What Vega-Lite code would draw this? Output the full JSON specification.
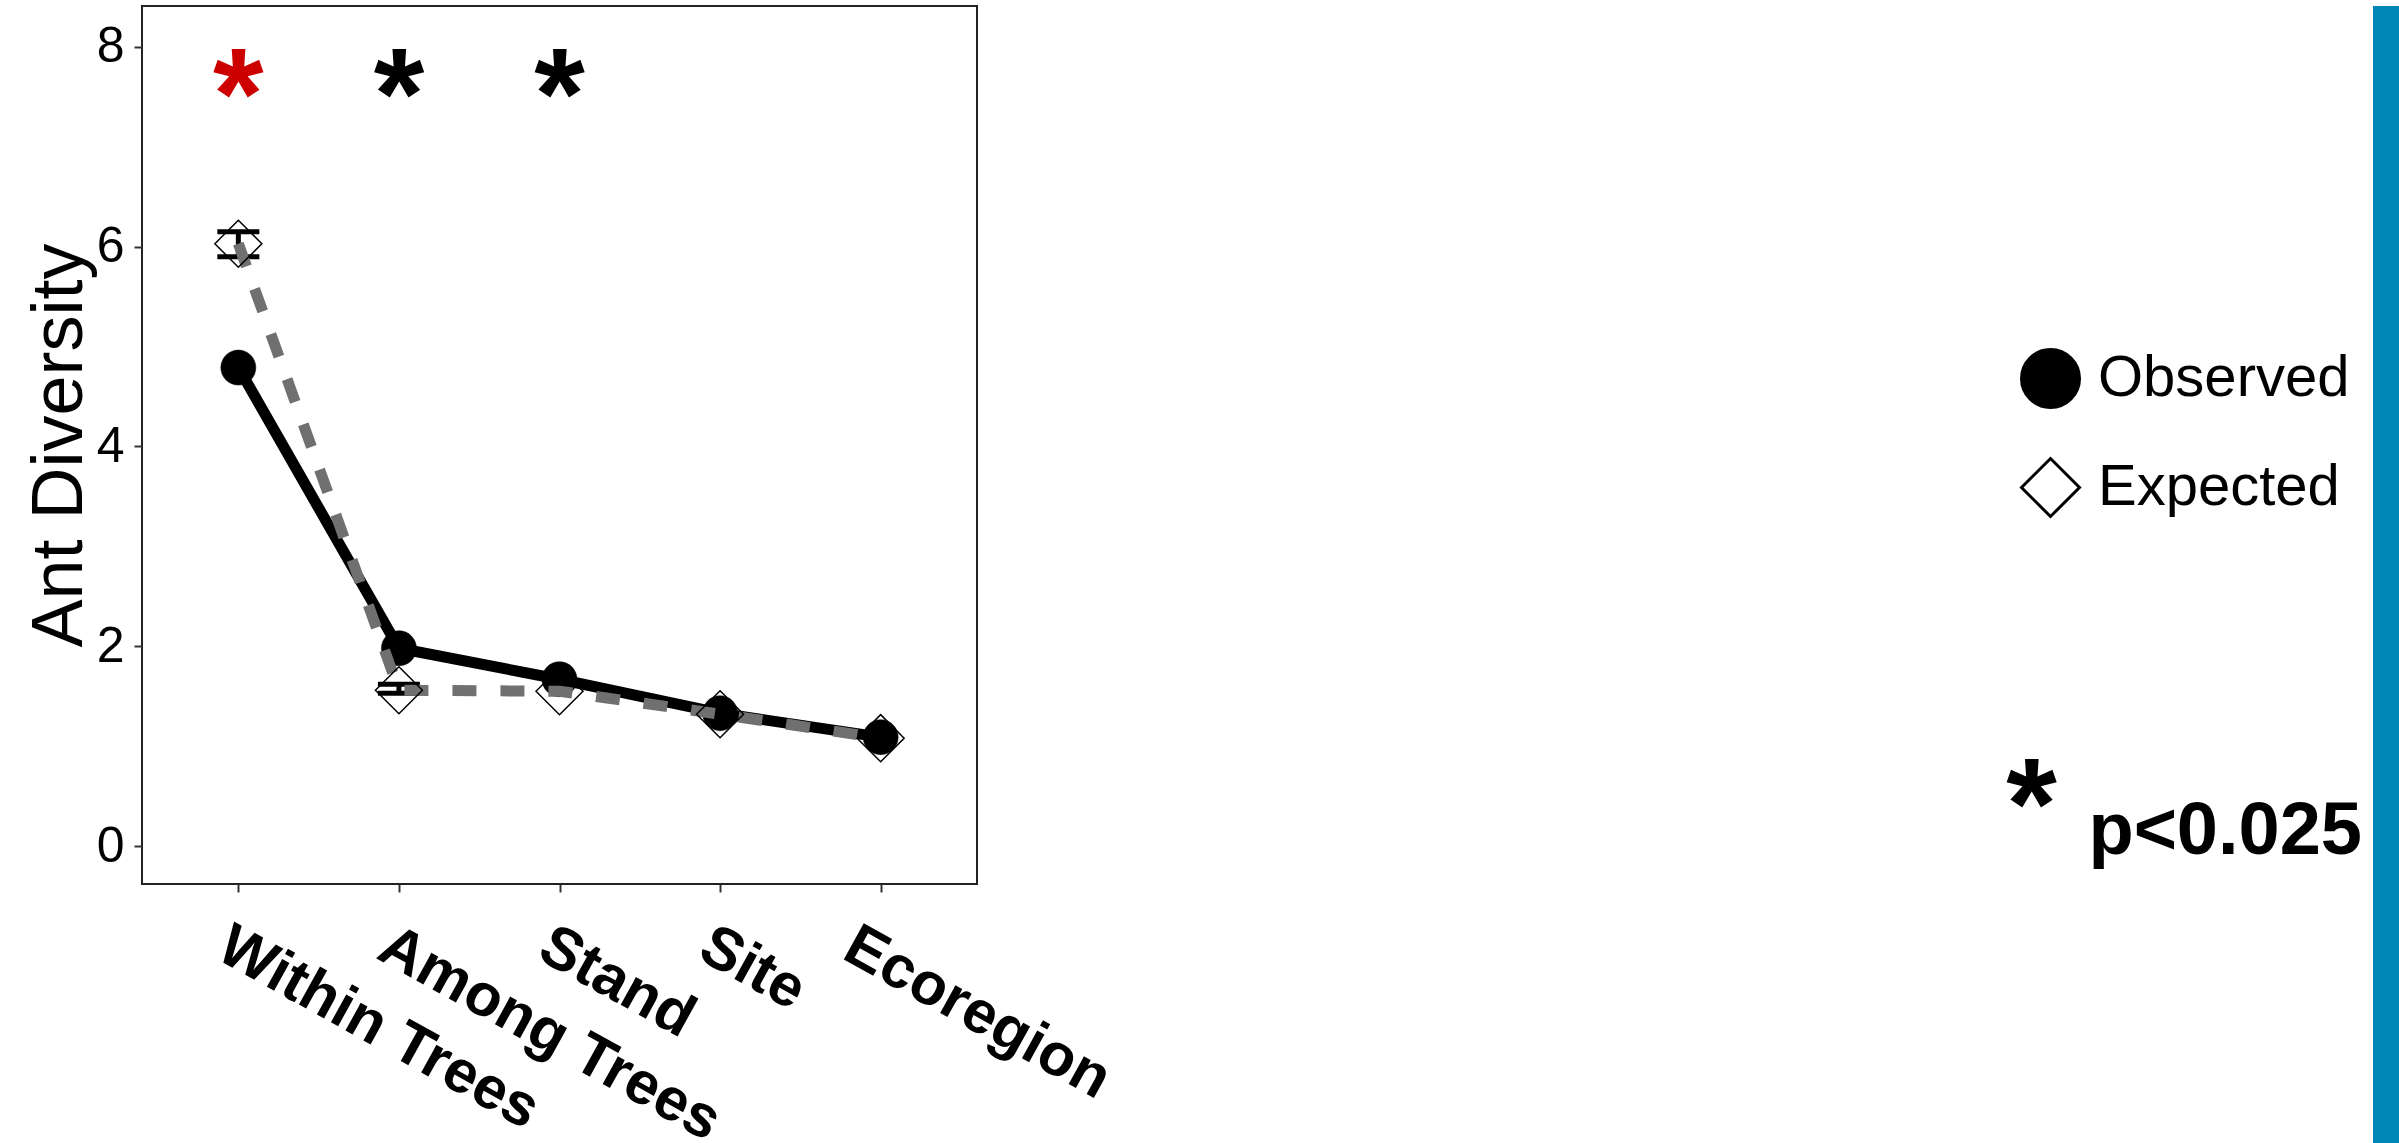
{
  "$schema": "https://vega.github.io/schema/vega-lite/v6.json",
  "background": "white",
  "padding": {"left": 22, "top": 5, "right": 0, "bottom": 0},
  "spacing": 1252,
  "config": {
    "font": "Liberation Sans",
    "axis": {"grid": false, "domain": false, "tickColor": "#333333", "tickWidth": 2, "tickSize": 8, "labelColor": "black", "titleColor": "black", "labelFont": "Liberation Sans", "titleFont": "Liberation Sans"}
  },
  "datasets": {
    "pts": [
      {"level": "Within Trees", "idx": 1, "type": "Observed", "value": 4.79},
      {"level": "Among Trees", "idx": 2, "type": "Observed", "value": 1.98},
      {"level": "Stand", "idx": 3, "type": "Observed", "value": 1.67},
      {"level": "Site", "idx": 4, "type": "Observed", "value": 1.33},
      {"level": "Ecoregion", "idx": 5, "type": "Observed", "value": 1.09},
      {"level": "Within Trees", "idx": 1, "type": "Expected", "value": 6.03},
      {"level": "Among Trees", "idx": 2, "type": "Expected", "value": 1.56},
      {"level": "Stand", "idx": 3, "type": "Expected", "value": 1.55},
      {"level": "Site", "idx": 4, "type": "Expected", "value": 1.32},
      {"level": "Ecoregion", "idx": 5, "type": "Expected", "value": 1.08}
    ],
    "err": [
      {"level": "Within Trees", "lo": 5.90, "hi": 6.15},
      {"level": "Among Trees", "lo": 1.53, "hi": 1.62}
    ],
    "sig": [
      {"level": "Within Trees", "y": 7.47},
      {"level": "Among Trees", "y": 7.47},
      {"level": "Stand", "y": 7.47}
    ],
    "bar": [{"x0": 0, "x1": 1, "y0": 0, "y1": 1}]
  },
  "title": {
    "text": "*",
    "subtitle": "\u200b\u00a0\u00a0\u00a0\u00a0p<0.025",
    "orient": "bottom",
    "anchor": "start",
    "align": "left",
    "offset": 0,
    "dx": 1984,
    "dy": -407,
    "font": "Liberation Sans",
    "fontSize": 130,
    "fontWeight": "bold",
    "color": "black",
    "subtitleFont": "Liberation Sans",
    "subtitleFontSize": 74,
    "subtitleFontWeight": "bold",
    "subtitleColor": "black",
    "subtitlePadding": -80
  },
  "hconcat": [
    {
      "width": 835,
      "height": 878,
      "view": {"stroke": "#222222", "strokeWidth": 2},
      "encoding": {
        "x": {
          "field": "level",
          "type": "ordinal",
          "sort": ["Within Trees", "Among Trees", "Stand", "Site", "Ecoregion"],
          "scale": {"type": "point", "padding": 0.6},
          "axis": {"title": null, "labelAngle": 29, "labelAlign": "left", "labelBaseline": "top", "labelFontSize": 60, "labelFontWeight": "bold", "labelPadding": 24, "labelOffset": {"condition": {"test": "datum.value === 'Ecoregion'", "value": -18}, "value": -2}, "labelLimit": 0, "labelOverlap": false}
        }
      },
      "layer": [
        {
          "data": {"name": "pts"},
          "transform": [{"filter": "datum.type === 'Observed'"}],
          "mark": {"type": "line", "color": "black", "strokeWidth": 11},
          "encoding": {
            "y": {"field": "value", "type": "quantitative", "title": "Ant Diversity", "scale": {"domain": [-0.38, 8.41], "nice": false, "zero": false}, "axis": {"values": [0, 2, 4, 6, 8], "format": "d", "labelFontSize": 50, "labelPadding": 10, "titleFontSize": 72, "titleFontWeight": "normal", "titlePadding": 0}},
            "order": {"field": "idx", "type": "quantitative"}
          }
        },
        {
          "data": {"name": "pts"},
          "transform": [{"filter": "datum.type === 'Observed'"}],
          "mark": {"type": "point", "filled": true, "size": 1225, "stroke": "black", "strokeWidth": 0.5, "opacity": 1},
          "encoding": {
            "y": {"field": "value", "type": "quantitative", "title": "Ant Diversity"},
            "shape": {"field": "type", "type": "nominal", "scale": {"domain": ["Observed", "Expected"], "range": ["circle", "diamond"]},
              "legend": {"title": null, "orient": "none", "legendX": 1878, "legendY": 342, "padding": 0, "rowPadding": 38, "labelFontSize": 58, "labelOffset": 17, "labelColor": "black", "labelLimit": 0, "symbolSize": 3364, "symbolStrokeWidth": 3, "symbolStrokeColor": "black", "symbolOpacity": 1, "labelFont": "Liberation Sans",
                "encode": {"symbols": {"update": {"stroke": {"value": "black"}, "strokeWidth": {"value": 3}, "opacity": {"value": 1}}}}}},
            "fill": {"field": "type", "type": "nominal", "scale": {"domain": ["Observed", "Expected"], "range": ["#000000", "transparent"]},
              "legend": {"title": null, "orient": "none", "legendX": 1878, "legendY": 342, "padding": 0, "rowPadding": 38, "labelFontSize": 58, "labelOffset": 17, "labelColor": "black", "labelLimit": 0, "symbolSize": 3364, "symbolStrokeWidth": 3, "symbolStrokeColor": "black", "symbolOpacity": 1, "labelFont": "Liberation Sans",
                "encode": {"symbols": {"update": {"stroke": {"value": "black"}, "strokeWidth": {"value": 3}, "opacity": {"value": 1}}}}}}
          }
        },
        {
          "data": {"name": "err"},
          "mark": {"type": "rule", "color": "black", "strokeWidth": 5},
          "encoding": {
            "y": {"field": "lo", "type": "quantitative", "title": "Ant Diversity"},
            "y2": {"field": "hi"}
          }
        },
        {
          "data": {"name": "err"},
          "mark": {"type": "tick", "color": "black", "size": 42, "thickness": 5, "opacity": 1},
          "encoding": {
            "y": {"field": "lo", "type": "quantitative", "title": "Ant Diversity"}
          }
        },
        {
          "data": {"name": "err"},
          "mark": {"type": "tick", "color": "black", "size": 42, "thickness": 5, "opacity": 1},
          "encoding": {
            "y": {"field": "hi", "type": "quantitative", "title": "Ant Diversity"}
          }
        },
        {
          "data": {"name": "pts"},
          "transform": [{"filter": "datum.type === 'Expected'"}],
          "mark": {"type": "line", "color": "#707070", "strokeWidth": 11, "strokeDash": [24, 24]},
          "encoding": {
            "y": {"field": "value", "type": "quantitative", "title": "Ant Diversity"},
            "order": {"field": "idx", "type": "quantitative"}
          }
        },
        {
          "data": {"name": "pts"},
          "transform": [{"filter": "datum.type === 'Expected'"}],
          "mark": {"type": "point", "filled": true, "size": 2209, "stroke": "black", "strokeWidth": 1.5, "opacity": 1},
          "encoding": {
            "y": {"field": "value", "type": "quantitative", "title": "Ant Diversity"},
            "shape": {"field": "type", "type": "nominal", "scale": {"domain": ["Observed", "Expected"], "range": ["circle", "diamond"]},
              "legend": {"title": null, "orient": "none", "legendX": 1878, "legendY": 342, "padding": 0, "rowPadding": 38, "labelFontSize": 58, "labelOffset": 17, "labelColor": "black", "labelLimit": 0, "symbolSize": 3364, "symbolStrokeWidth": 3, "symbolStrokeColor": "black", "symbolOpacity": 1, "labelFont": "Liberation Sans",
                "encode": {"symbols": {"update": {"stroke": {"value": "black"}, "strokeWidth": {"value": 3}, "opacity": {"value": 1}}}}}},
            "fill": {"field": "type", "type": "nominal", "scale": {"domain": ["Observed", "Expected"], "range": ["#000000", "transparent"]},
              "legend": {"title": null, "orient": "none", "legendX": 1878, "legendY": 342, "padding": 0, "rowPadding": 38, "labelFontSize": 58, "labelOffset": 17, "labelColor": "black", "labelLimit": 0, "symbolSize": 3364, "symbolStrokeWidth": 3, "symbolStrokeColor": "black", "symbolOpacity": 1, "labelFont": "Liberation Sans",
                "encode": {"symbols": {"update": {"stroke": {"value": "black"}, "strokeWidth": {"value": 3}, "opacity": {"value": 1}}}}}}
          }
        },
        {
          "data": {"name": "sig"},
          "mark": {"type": "text", "text": "*", "fontSize": 130, "fontWeight": "bold", "baseline": "middle", "align": "center", "font": "Liberation Sans"},
          "encoding": {
            "y": {"field": "y", "type": "quantitative", "title": "Ant Diversity"},
            "color": {"field": "level", "type": "nominal", "scale": {"domain": ["Within Trees", "Among Trees", "Stand"], "range": ["#cd0000", "#000000", "#000000"]}, "legend": null}
          }
        }
      ]
    },
    {
      "width": 29,
      "height": 1138,
      "view": {"stroke": null},
      "data": {"name": "bar"},
      "mark": {"type": "rect", "color": "#0086b8"},
      "encoding": {
        "x": {"field": "x0", "type": "quantitative", "scale": {"domain": [0, 1], "nice": false}, "axis": null},
        "x2": {"field": "x1"},
        "y": {"field": "y0", "type": "quantitative", "scale": {"domain": [0, 1], "nice": false}, "axis": null},
        "y2": {"field": "y1"}
      }
    }
  ]
}
